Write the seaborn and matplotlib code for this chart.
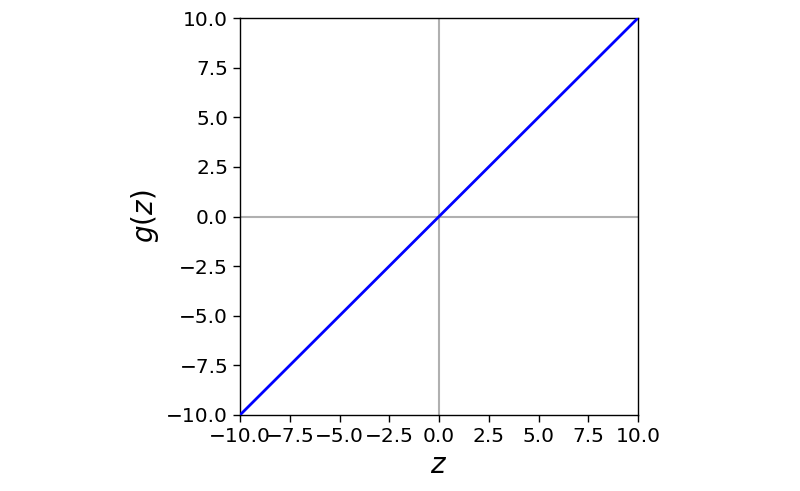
import matplotlib
matplotlib.use("Agg")
import matplotlib.pyplot as plt
import seaborn as sns
import pandas as pd

z = [-10.0, -5.0, 0.0, 5.0, 10.0]
g = [-10.0, -5.0, 0.0, 5.0, 10.0]
ticks = [-10.0, -7.5, -5.0, -2.5, 0.0, 2.5, 5.0, 7.5, 10.0]

df = pd.DataFrame({"z": z, "g": g})

sns.set_style("white")
plt.rcParams['font.family'] = ['DejaVu Sans']
fig = plt.figure(figsize=(8, 4.91), dpi=100)
ax = fig.add_axes([0.3, 0.1548, 0.4975, 0.8085])

ax.axhline(0, color="#b0b0b0", lw=1.5, zorder=1)
ax.axvline(0, color="#b0b0b0", lw=1.5, zorder=1)
sns.lineplot(data=df, x="z", y="g", color="blue", lw=2, ax=ax, zorder=3)

ax.set_xlim(-10, 10)
ax.set_ylim(-10, 10)
ax.set_xticks(ticks)
ax.set_yticks(ticks)
ax.tick_params(axis="both", labelsize=14.5, direction="out", length=5, width=1, color="black",
               labelcolor="black", bottom=True, left=True)
for s in ax.spines.values():
    s.set_color("black")
    s.set_linewidth(1)
ax.set_xlabel(r"$z$", fontsize=20, color="black")
ax.set_ylabel(r"$g(z)$", fontsize=20, color="black")

fig.savefig("out.png", dpi=100)
